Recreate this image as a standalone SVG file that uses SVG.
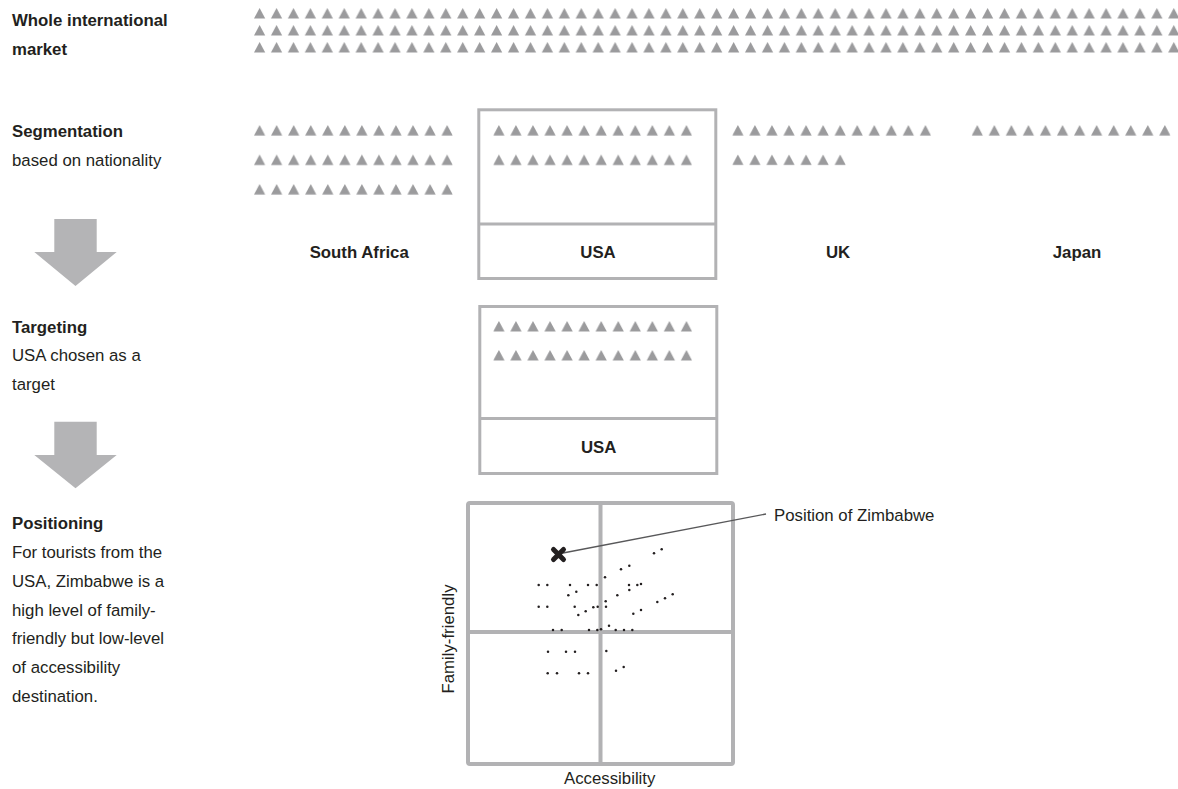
<svg xmlns="http://www.w3.org/2000/svg" xmlns:xlink="http://www.w3.org/1999/xlink" width="1178" height="789" viewBox="0 0 1178 789">
<style>
text{font-family:"Liberation Sans",Arial,sans-serif;font-size:16.8px;fill:#231f20}
.b{font-weight:bold}
.m{text-anchor:middle}
.box{fill:none;stroke:#b2b2b4;stroke-width:3}
.grid{fill:none;stroke:#b2b2b4;stroke-width:4}
.arrow{fill:#b4b4b6}
.tri{fill:#9b9b9d}
.dot{fill:#231f20}
</style>
<defs>
<pattern id="pTop" patternUnits="userSpaceOnUse" x="254" y="8" width="16.93" height="17">
<path class="tri" d="M0,10.5 L5.6,0 L11.2,10.5 Z"/>
</pattern>
<pattern id="pSeg" patternUnits="userSpaceOnUse" x="254" y="125" width="17.05" height="29.5">
<path class="tri" d="M0,10.5 L5.6,0 L11.2,10.5 Z"/>
</pattern>
<pattern id="pUSA" patternUnits="userSpaceOnUse" x="493.3" y="125" width="17.05" height="29.5">
<path class="tri" d="M0,10.5 L5.6,0 L11.2,10.5 Z"/>
</pattern>
<pattern id="pUK" patternUnits="userSpaceOnUse" x="732.3" y="125" width="17.05" height="29.5">
<path class="tri" d="M0,10.5 L5.6,0 L11.2,10.5 Z"/>
</pattern>
<pattern id="pJP" patternUnits="userSpaceOnUse" x="971.7" y="125" width="17.05" height="29.5">
<path class="tri" d="M0,10.5 L5.6,0 L11.2,10.5 Z"/>
</pattern>
<pattern id="pTgt" patternUnits="userSpaceOnUse" x="493.3" y="321" width="17.05" height="29">
<path class="tri" d="M0,10.5 L5.6,0 L11.2,10.5 Z"/>
</pattern>
</defs>

<g id="labels-left">
<text class="b" x="12" y="26">Whole international</text>
<text class="b" x="12" y="55">market</text>
<text class="b" x="12" y="137">Segmentation</text>
<text x="12" y="166">based on nationality</text>
<text class="b" x="12" y="333">Targeting</text>
<text x="12" y="361">USA chosen as a</text>
<text x="12" y="390">target</text>
<text class="b" x="12" y="529">Positioning</text>
<text x="12" y="558">For tourists from the</text>
<text x="12" y="587">USA, Zimbabwe is a</text>
<text x="12" y="616">high level of family-</text>
<text x="12" y="644">friendly but low-level</text>
<text x="12" y="673">of accessibility</text>
<text x="12" y="702">destination.</text>
</g>

<g id="market">
<rect x="254" y="8" width="925" height="45" fill="url(#pTop)"/>
</g>

<g id="south-africa">
<rect x="254" y="125" width="198.8" height="70" fill="url(#pSeg)"/>
<text class="b m" x="359.2" y="258">South Africa</text>
</g>

<g id="usa-segment">
<rect class="box" x="478.8" y="109.8" width="237" height="168.7"/>
<line class="box" x1="478.8" y1="224" x2="715.8" y2="224"/>
<rect x="493.3" y="125" width="198.8" height="41" fill="url(#pUSA)"/>
<text class="b m" x="598" y="258">USA</text>
</g>

<g id="uk">
<rect x="732.3" y="125" width="198.8" height="11" fill="url(#pUK)"/>
<rect x="732.3" y="154.5" width="113.6" height="11" fill="url(#pUK)"/>
<text class="b m" x="838" y="258">UK</text>
</g>

<g id="japan">
<rect x="971.7" y="125" width="198.8" height="11" fill="url(#pJP)"/>
<text class="b m" x="1077" y="258">Japan</text>
</g>

<g id="arrow1">
<path class="arrow" d="M54.3,219 H96.7 V252 H116.7 L75.5,286 L34.3,252 H54.3 Z"/>
</g>
<g id="arrow2">
<path class="arrow" d="M54.3,421.7 H96.7 V455 H116.7 L75.5,488.3 L34.3,455 H54.3 Z"/>
</g>

<g id="usa-target">
<rect class="box" x="479.8" y="306.5" width="237" height="167"/>
<line class="box" x1="479.8" y1="418.5" x2="716.8" y2="418.5"/>
<rect x="493.3" y="321" width="198.8" height="40" fill="url(#pTgt)"/>
<text class="b m" x="598.7" y="453.3">USA</text>
</g>

<g id="positioning-map">
<rect class="grid" x="468" y="503" width="265" height="261" rx="2"/>
<line class="grid" x1="600.5" y1="503" x2="600.5" y2="764"/>
<line class="grid" x1="468" y1="632" x2="733" y2="632"/>
<g id="dots">
<circle class="dot" cx="654" cy="553.3" r="1.25"/>
<circle class="dot" cx="661.7" cy="549.3" r="1.25"/>
<circle class="dot" cx="621" cy="569.3" r="1.25"/>
<circle class="dot" cx="629.3" cy="565.7" r="1.25"/>
<circle class="dot" cx="605" cy="577.3" r="1.25"/>
<circle class="dot" cx="538.7" cy="585" r="1.25"/>
<circle class="dot" cx="547.3" cy="585" r="1.25"/>
<circle class="dot" cx="570" cy="585" r="1.25"/>
<circle class="dot" cx="588" cy="585" r="1.25"/>
<circle class="dot" cx="596.7" cy="585" r="1.25"/>
<circle class="dot" cx="629" cy="585" r="1.25"/>
<circle class="dot" cx="637.3" cy="585" r="1.25"/>
<circle class="dot" cx="641" cy="584" r="1.25"/>
<circle class="dot" cx="629.3" cy="590" r="1.25"/>
<circle class="dot" cx="576.3" cy="591.7" r="1.25"/>
<circle class="dot" cx="568.3" cy="595.3" r="1.25"/>
<circle class="dot" cx="617.3" cy="595.3" r="1.25"/>
<circle class="dot" cx="672.7" cy="594.3" r="1.25"/>
<circle class="dot" cx="665" cy="598.3" r="1.25"/>
<circle class="dot" cx="657.3" cy="602" r="1.25"/>
<circle class="dot" cx="605.7" cy="601.3" r="1.25"/>
<circle class="dot" cx="538.7" cy="606.7" r="1.25"/>
<circle class="dot" cx="547.3" cy="606.7" r="1.25"/>
<circle class="dot" cx="574.7" cy="606.7" r="1.25"/>
<circle class="dot" cx="593.3" cy="607.3" r="1.25"/>
<circle class="dot" cx="597.7" cy="606.7" r="1.25"/>
<circle class="dot" cx="606" cy="606.7" r="1.25"/>
<circle class="dot" cx="585.7" cy="611.3" r="1.25"/>
<circle class="dot" cx="578.3" cy="615" r="1.25"/>
<circle class="dot" cx="641" cy="610" r="1.25"/>
<circle class="dot" cx="633.3" cy="613.7" r="1.25"/>
<circle class="dot" cx="609" cy="625.7" r="1.25"/>
<circle class="dot" cx="553" cy="630" r="1.25"/>
<circle class="dot" cx="561.7" cy="630" r="1.25"/>
<circle class="dot" cx="589" cy="630" r="1.25"/>
<circle class="dot" cx="597.3" cy="630" r="1.25"/>
<circle class="dot" cx="601" cy="629.3" r="1.25"/>
<circle class="dot" cx="615.7" cy="630" r="1.25"/>
<circle class="dot" cx="624" cy="630" r="1.25"/>
<circle class="dot" cx="632.3" cy="630" r="1.25"/>
<circle class="dot" cx="548" cy="651.7" r="1.25"/>
<circle class="dot" cx="566" cy="651.7" r="1.25"/>
<circle class="dot" cx="575" cy="651.7" r="1.25"/>
<circle class="dot" cx="606.3" cy="651" r="1.25"/>
<circle class="dot" cx="547.7" cy="673.3" r="1.25"/>
<circle class="dot" cx="557" cy="673.3" r="1.25"/>
<circle class="dot" cx="579" cy="673.3" r="1.25"/>
<circle class="dot" cx="588" cy="673.3" r="1.25"/>
<circle class="dot" cx="616" cy="670.7" r="1.25"/>
<circle class="dot" cx="623.7" cy="667" r="1.25"/>
</g>
<text class="m" x="609.7" y="784">Accessibility</text>
<text class="m" transform="translate(454,639) rotate(-90)" x="0" y="0">Family-friendly</text>
</g>

<g id="connectors">
<line x1="563" y1="553" x2="766" y2="514" stroke="#58585a" stroke-width="1.4"/>
</g>

<g id="zimbabwe">
<path d="M553.5,549.5 L563.5,559.5 M563.5,549.5 L553.5,559.5" stroke="#231f20" stroke-width="5" stroke-linecap="round"/>
<text x="774" y="521">Position of Zimbabwe</text>
</g>
</svg>
